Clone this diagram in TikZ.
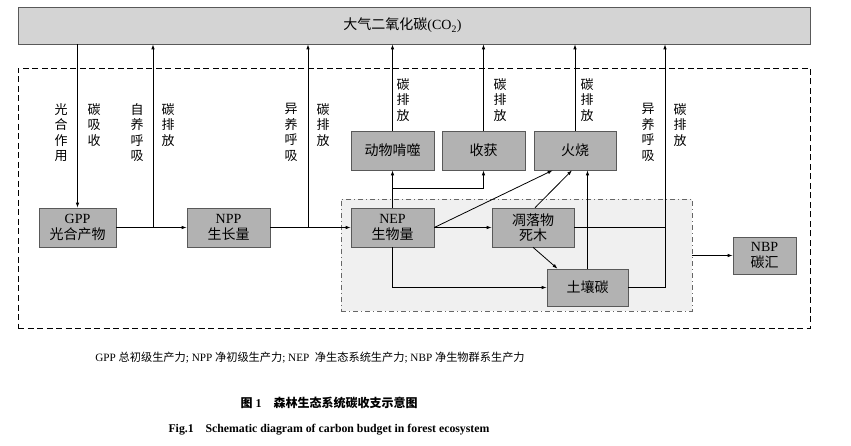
\documentclass[tikz,border=0pt]{standalone}
\usepackage{fontspec}
\setmainfont{Liberation Serif}
\newfontfamily\cjk{Noto Sans CJK SC}
\newcommand{\zh}[1]{{\cjk #1}}
\usetikzlibrary{arrows.meta}
\definecolor{boxgray}{RGB}{178,178,178}
\definecolor{topgray}{RGB}{212,212,212}
\definecolor{zonegray}{RGB}{240,240,240}
\begin{document}
\begin{tikzpicture}[x=1pt, y=-1pt, >={Latex[length=5pt,width=3.5pt]},
  line width=0.8pt,
  box/.style={draw=black!65, fill=boxgray, line width=0.6pt, inner sep=0pt,
    minimum height=39pt, align=center, font=\fontsize{14}{15.5}\selectfont},
  vlabel/.style={anchor=north, align=center, inner sep=0pt,
    font=\cjk\fontsize{13}{15.5}\selectfont}]
  \useasboundingbox (0,0) rectangle (851,446);
  % background zones
  \node[draw, dash pattern=on 6pt off 3.5pt, line width=0.7pt, minimum width=792pt, minimum height=260pt] (forest) at (414,198) {};
  \node[draw=black!60, fill=zonegray, dash pattern=on 5pt off 3pt on 1pt off 3pt, line width=0.6pt, minimum width=351pt, minimum height=112pt] (eco) at (516.5,255) {};
  \node[box, fill=topgray, minimum width=792pt, minimum height=37pt] (co2) at (414,25.5) {\zh{大气二氧化碳}(CO\textsubscript{2})\hspace*{23pt}};
  % boxes
  \node[box, minimum width=77pt] (gpp) at (77.5,227.5) {GPP\\\zh{光合产物}};
  \node[box, minimum width=83pt] (npp) at (228.5,227.5) {NPP\\\zh{生长量}};
  \node[box, minimum width=83pt] (nep) at (392.5,227.5) {NEP\\\zh{生物量}};
  \node[box, minimum width=82pt] (litter) at (533,227.5) {\zh{凋落物}\\\zh{死木}};
  \node[box, minimum width=81pt, minimum height=37pt] (soil) at (587.5,287.5) {\zh{土壤碳}};
  \node[box, minimum width=63pt, minimum height=37pt] (nbp) at (764.5,255.5) {NBP\\\zh{碳汇}};
  \node[box, minimum width=83pt] (graze) at (392.5,150.5) {\zh{动物啃噬}};
  \node[box, minimum width=83pt] (harvest) at (483.5,150.5) {\zh{收获}};
  \node[box, minimum width=82pt] (fire) at (575,150.5) {\zh{火烧}};
  % joints
  \coordinate (j1) at (153,227.5);
  \coordinate (j2) at (308,227.5);
  \coordinate (j3) at (392.5,188);
  \coordinate (j4) at (665,287.5);
  % main chain
  \draw[->] (co2.south -| gpp.north) -- (gpp.north);
  \draw[->] (gpp) -- (npp);
  \draw[->] (npp) -- (nep);
  \draw[->] (j1) -- (j1 |- co2.south);
  \draw[->] (j2) -- (j2 |- co2.south);
  \draw[->] (nep) -- (litter);
  \draw[->] (nep.north) -- (graze.south);
  \draw[->] (j3) -| (harvest.south);
  \draw[->] (nep.east) -- ([xshift=19pt]fire.south west);
  \draw[->] ([xshift=2pt]litter.north) -- ([xshift=-3pt]fire.south);
  \draw[->] (soil.north) -- (soil.north |- fire.south);
  \draw[->] (litter.south) -- ([xshift=-30pt]soil.north);
  \draw[->] (nep.south) |- (soil.west);
  \draw (litter.east) -- (litter.east -| j4);
  \draw[->] (soil.east) -- (j4) -- (j4 |- co2.south);
  \draw[->] (graze.north) -- (graze.north |- co2.south);
  \draw[->] (harvest.north) -- (harvest.north |- co2.south);
  \draw[->] (fire.north) -- (fire.north |- co2.south);
  \draw[->] (eco.east |- nbp.west) -- (nbp.west);
  % labels
  \node[vlabel] (l1) at (61,103) {光\\合\\作\\用};
  \node[vlabel] (l2) at (94,103) {碳\\吸\\收};
  \node[vlabel] (l3) at (137,103) {自\\养\\呼\\吸};
  \node[vlabel] (l4) at (168,103) {碳\\排\\放};
  \node[vlabel] (l5) at (291,103) {异\\养\\呼\\吸};
  \node[vlabel] (l6) at (323,103) {碳\\排\\放};
  \node[vlabel] (l7) at (403,78) {碳\\排\\放};
  \node[vlabel] (l8) at (500,78) {碳\\排\\放};
  \node[vlabel] (l9) at (587,78) {碳\\排\\放};
  \node[vlabel] (l10) at (648,103) {异\\养\\呼\\吸};
  \node[vlabel] (l11) at (680,103) {碳\\排\\放};
  % captions
  \node[font=\fontsize{11.2}{14}\selectfont] (cap1) at (310,358) {GPP \zh{总初级生产力}; NPP \zh{净初级生产力}; NEP\ \ \zh{净生态系统生产力}; NBP \zh{净生物群系生产力}};
  \node[font=\fontsize{12}{14}\selectfont\bfseries] (cap2) at (329,403) {\zh{图} 1\quad\zh{森林生态系统碳收支示意图}};
  \node[font=\fontsize{11.8}{14}\selectfont\bfseries] (cap3) at (329,430) {Fig.1\quad Schematic diagram of carbon budget in forest ecosystem};
\end{tikzpicture}
\end{document}
